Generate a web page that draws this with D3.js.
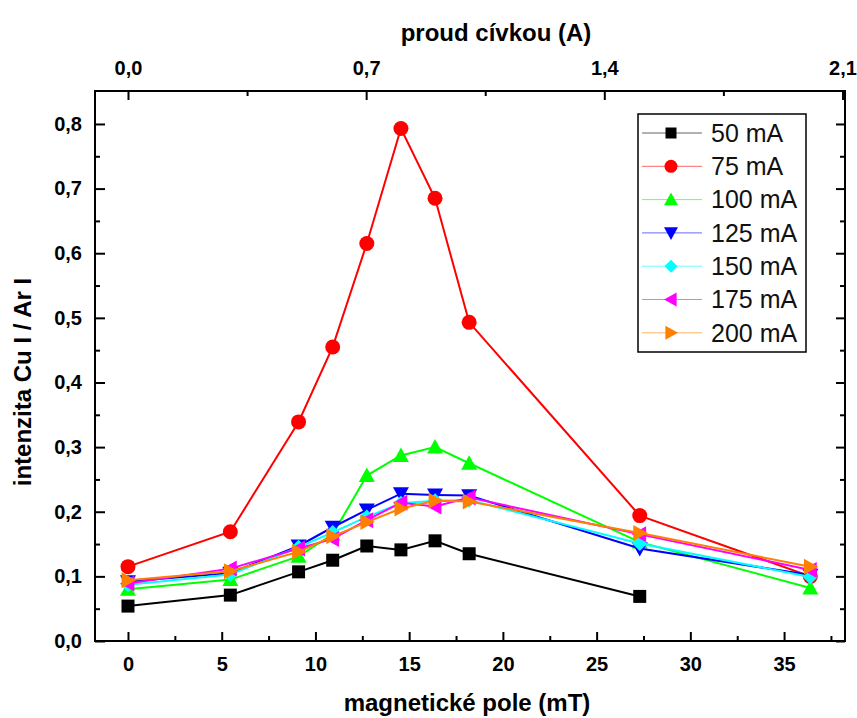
<!DOCTYPE html>
<html>
<head>
<meta charset="utf-8">
<script src="https://cdn.jsdelivr.net/npm/d3@7"></script>
<style>
  html, body { margin: 0; padding: 0; background: #fff; }
  svg { display: block; }
  .tick text { font-family: "Liberation Sans", Arial, sans-serif; font-weight: bold; font-size: 20px; fill: #000; }
  .title { font-family: "Liberation Sans", Arial, sans-serif; font-weight: bold; font-size: 24px; fill: #000; }
  .legend text { font-family: "Liberation Sans", Arial, sans-serif; font-size: 25px; fill: #111; }
</style>
</head>
<body>
<svg id="chart" width="857" height="718"></svg>
<script>
// Magnetic field (mT) at each coil current step
const fieldMT = [0, 5.46, 9.1, 10.92, 12.74, 14.56, 16.38, 18.2, 27.3, 36.4];

// Cu I / Ar I intensity ratio for each discharge current
const series50 = [0.054, 0.071, 0.107, 0.125, 0.147, 0.141, 0.155, 0.135, 0.069];
const series75 = [0.115, 0.169, 0.339, 0.455, 0.615, 0.793, 0.685, 0.493, 0.194, 0.100];
const series100 = [0.080, 0.095, 0.131, 0.165, 0.256, 0.287, 0.300, 0.275, 0.153, 0.082];
const series125 = [0.092, 0.105, 0.147, 0.176, 0.203, 0.228, 0.226, 0.225, 0.143, 0.102];
const series150 = [0.087, 0.103, 0.145, 0.168, 0.192, 0.213, 0.217, 0.218, 0.151, 0.099];
const series175 = [0.089, 0.112, 0.143, 0.158, 0.187, 0.214, 0.208, 0.222, 0.165, 0.110];
const series200 = [0.094, 0.108, 0.138, 0.162, 0.184, 0.205, 0.217, 0.216, 0.167, 0.115];

const seriesNames = ["50 mA", "75 mA", "100 mA", "125 mA", "150 mA", "175 mA", "200 mA"];
const seriesValues = [series50, series75, series100, series125, series150, series175, series200];
const seriesColors = ["#000000", "#ff0000", "#00ff00", "#0000ff", "#00ffff", "#ff00ff", "#ff8000"];
const seriesSymbols = ["square", "circle", "triUp", "triDown", "diamond", "triLeft", "triRight"];

// Axis ticks
const bottomTicks = [0, 5, 10, 15, 20, 25, 30, 35];
const bottomMinor = [2.5, 7.5, 12.5, 17.5, 22.5, 27.5, 32.5, 37.5];
const topTicks = [0.0, 0.7, 1.4, 2.1];
const topTickLabels = ["0,0", "0,7", "1,4", "2,1"];
const topMinor = [0.35, 1.05, 1.75];
const yTicks = [0, 0.1, 0.2, 0.3, 0.4, 0.5, 0.6, 0.7, 0.8];
const yTickLabels = ["0,0", "0,1", "0,2", "0,3", "0,4", "0,5", "0,6", "0,7", "0,8"];
const yMinor = [0.05, 0.15, 0.25, 0.35, 0.45, 0.55, 0.65, 0.75];

// Coil calibration: field per ampere of coil current
const mTperA = 18.15;

const plotLeft = 95, plotRight = 845, plotTop = 91, plotBottom = 641;
const xDomain = [-1.76, 38.25];
const x = d3.scaleLinear().domain(xDomain).range([plotLeft, plotRight]);
const xTop = d3.scaleLinear().domain(xDomain.map(v => v / mTperA)).range([plotLeft, plotRight]);
const y = d3.scaleLinear().domain([0, 0.851]).range([plotBottom, plotTop]);

const svg = d3.select("#chart");

function styleAxis(g) {
  g.select(".domain").remove();
  g.selectAll(".tick line").attr("stroke", "#000").attr("stroke-width", 2);
}

// Bottom axis (mT)
svg.append("g").attr("transform", `translate(0,${plotBottom})`)
  .call(d3.axisBottom(x).tickValues(bottomTicks).tickSizeInner(-9).tickSizeOuter(0).tickPadding(16).tickFormat(d3.format("d")))
  .call(styleAxis);
svg.append("g").attr("transform", `translate(0,${plotBottom})`)
  .call(d3.axisBottom(x).tickValues(bottomMinor).tickSizeInner(-5).tickSizeOuter(0).tickFormat(""))
  .call(styleAxis);

// Top axis (A)
svg.append("g").attr("transform", `translate(0,${plotTop})`)
  .call(d3.axisTop(xTop).tickValues(topTicks).tickSizeInner(-9).tickSizeOuter(0).tickPadding(16)
    .tickFormat((d, i) => topTickLabels[i]))
  .call(styleAxis);
svg.append("g").attr("transform", `translate(0,${plotTop})`)
  .call(d3.axisTop(xTop).tickValues(topMinor).tickSizeInner(-5).tickSizeOuter(0).tickFormat(""))
  .call(styleAxis);

// Left axis
svg.append("g").attr("transform", `translate(${plotLeft},0)`)
  .call(d3.axisLeft(y).tickValues(yTicks).tickSizeInner(-10).tickSizeOuter(0).tickPadding(13)
    .tickFormat((d, i) => yTickLabels[i]))
  .call(styleAxis);
svg.append("g").attr("transform", `translate(${plotLeft},0)`)
  .call(d3.axisLeft(y).tickValues(yMinor).tickSizeInner(-5).tickSizeOuter(0).tickFormat(""))
  .call(styleAxis);

// Right axis (ticks only)
svg.append("g").attr("transform", `translate(${plotRight},0)`)
  .call(d3.axisRight(y).tickValues(yTicks).tickSizeInner(-9).tickSizeOuter(0).tickFormat(""))
  .call(styleAxis);
svg.append("g").attr("transform", `translate(${plotRight},0)`)
  .call(d3.axisRight(y).tickValues(yMinor).tickSizeInner(-5).tickSizeOuter(0).tickFormat(""))
  .call(styleAxis);

// Frame
svg.append("rect")
  .attr("x", plotLeft).attr("y", plotTop).attr("width", plotRight - plotLeft).attr("height", plotBottom - plotTop)
  .attr("fill", "none").attr("stroke", "#000").attr("stroke-width", 2);

// Axis titles
svg.append("text").attr("class", "title")
  .attr("x", 467).attr("y", 703).attr("dy", "0.35em")
  .attr("text-anchor", "middle").text("magnetické pole (mT)");
svg.append("text").attr("class", "title")
  .attr("x", 496).attr("y", 33).attr("dy", "0.35em")
  .attr("text-anchor", "middle").text("proud cívkou (A)");
svg.append("text").attr("class", "title")
  .attr("transform", "translate(23,382) rotate(-90)").attr("dy", "0.35em")
  .attr("text-anchor", "middle").text("intenzita Cu I / Ar I");

// Marker shapes
function symbolPath(kind, s) {
  const h = s / 2;
  switch (kind) {
    case "square": return `M${-h},${-h}H${h}V${h}H${-h}Z`;
    case "circle": return d3.symbol(d3.symbolCircle, Math.PI * h * h)();
    case "triUp": return `M0,${-h}L${h},${h * 0.8}L${-h},${h * 0.8}Z`;
    case "triDown": return `M0,${h}L${h},${-h * 0.8}L${-h},${-h * 0.8}Z`;
    case "triLeft": return `M${-h},0L${h * 0.8},${-h}L${h * 0.8},${h}Z`;
    case "triRight": return `M${h},0L${-h * 0.8},${-h}L${-h * 0.8},${h}Z`;
    case "diamond": return `M0,${-h}L${h},0L0,${h}L${-h},0Z`;
  }
}
const markerSize = { square: 13, circle: 15, triUp: 16, triDown: 16, triLeft: 16, triRight: 16, diamond: 15 };

const line = d3.line().x(d => x(d[0])).y(d => y(d[1]));
const plot = svg.append("g");

seriesValues.forEach((vals, si) => {
  const pts = vals.map((v, i) => [fieldMT[i], v]);
  const g = plot.append("g");
  g.append("path").datum(pts).attr("d", line)
    .attr("fill", "none").attr("stroke", seriesColors[si]).attr("stroke-width", 2);
  g.selectAll("path.pt").data(pts).enter().append("path").attr("class", "pt")
    .attr("transform", d => `translate(${x(d[0])},${y(d[1])})`)
    .attr("d", symbolPath(seriesSymbols[si], markerSize[seriesSymbols[si]]))
    .attr("fill", seriesColors[si]);
});

// Legend
const legend = svg.append("g").attr("class", "legend");
legend.append("rect").attr("x", 638).attr("y", 114).attr("width", 168).attr("height", 238)
  .attr("fill", "#fff").attr("stroke", "#000").attr("stroke-width", 1.5);
seriesNames.forEach((name, i) => {
  const cy = 133 + i * 33.3;
  legend.append("line").attr("x1", 642).attr("x2", 702).attr("y1", cy).attr("y2", cy)
    .attr("stroke", seriesColors[i]).attr("stroke-width", 1).attr("stroke-opacity", 0.6);
  legend.append("path").attr("transform", `translate(671,${cy})`)
    .attr("d", symbolPath(seriesSymbols[i], markerSize[seriesSymbols[i]] - 2))
    .attr("fill", seriesColors[i]);
  legend.append("text").attr("x", 711).attr("y", cy).attr("dy", "0.35em").text(name);
});
</script>
</body>
</html>
